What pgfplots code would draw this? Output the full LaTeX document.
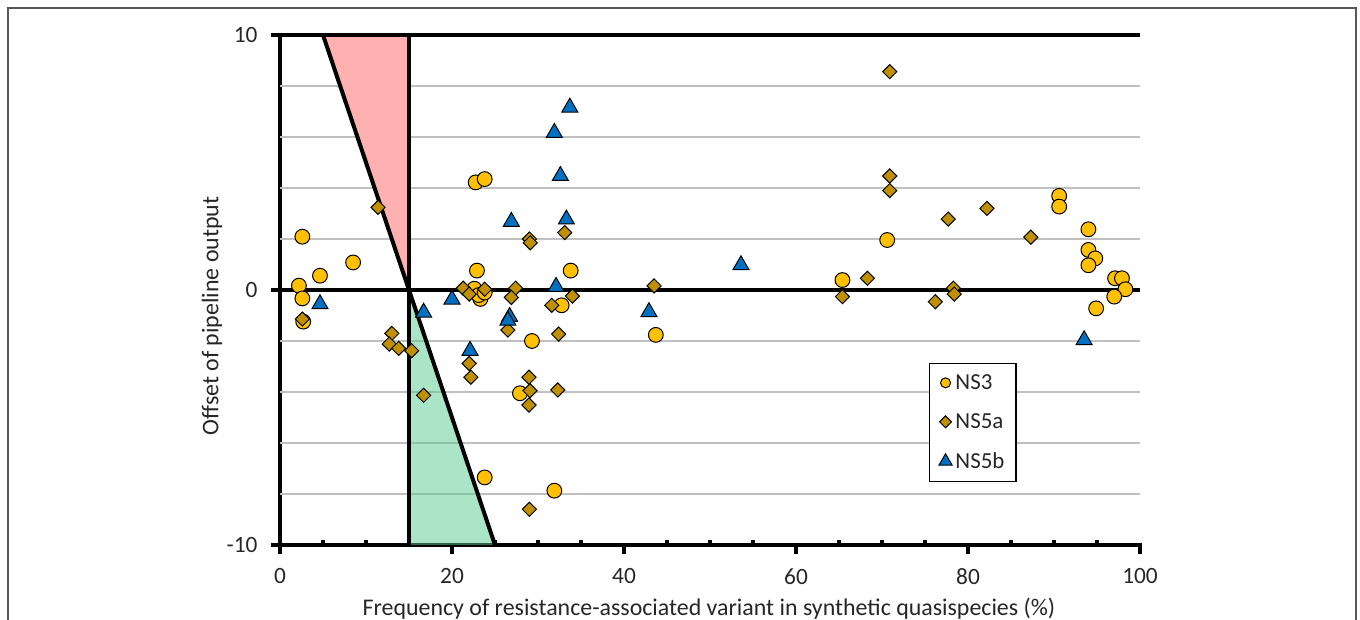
\documentclass[border=0pt]{standalone}
\usepackage{pgfplots}
\pgfplotsset{compat=1.18}
\usepackage{fontspec}
\setmainfont{Carlito}
\definecolor{ns3}{RGB}{255,192,0}
\definecolor{ns5a}{RGB}{191,144,0}
\definecolor{ns5b}{RGB}{0,112,192}
\definecolor{redfill}{RGB}{255,176,176}
\definecolor{greenov}{RGB}{87,203,145}
\definecolor{gridc}{RGB}{192,192,192}
\definecolor{txt}{RGB}{38,38,38}
\begin{document}
\begin{tikzpicture}
\useasboundingbox (0,0) rectangle (340mm,155mm);
\draw[black!65, line width=0.35mm] (2mm,-2mm) rectangle (339mm,153mm);
\begin{axis}[
  at={(70mm,18.75mm)}, anchor=south west,
  scale only axis, width=215mm, height=127.5mm,
  xmin=0, xmax=100, ymin=-10, ymax=10,
  axis x line*=bottom, axis y line*=left,
  axis line style={line width=1mm, line cap=rect},
  xtick={0,20,...,100}, ytick={-10,0,10},
  minor x tick num=3,
  tick align=outside,
  major tick length=2.3mm,
  minor tick length=1.25mm,
  every tick/.style={black, line width=0.9mm},
  every minor tick/.style={black, line width=0.8mm, yshift=1.25mm},
  extra y ticks={-8,-6,-4,-2,2,4,6,8},
  extra y tick labels={},
  extra y tick style={ymajorgrids=true, tick style={draw=none},
    major grid style={gridc, line width=0.4mm}},
  /pgf/number format/assume math mode=true,
  tick label style={font=\fontsize{16.6}{19}\selectfont, text=txt},
  xticklabel style={yshift=-2.4mm},
  yticklabel style={xshift=-2.1mm},
  clip=false,
  legend style={at={(rel axis cs:0.7547,0.357)}, anchor=north west,
    draw=black, line width=0.3mm, font=\fontsize{16.3}{19}\selectfont,
    text=txt, row sep=4.1mm, inner xsep=2.2mm, inner ysep=2mm,
    /tikz/every even column/.append style={column sep=0mm}},
  legend cell align=left,
]
% red region
\addplot[draw=none, fill=redfill, forget plot] coordinates {(5,10) (15,10) (15,0) (5,10)};
% black reference lines
\addplot[black, line width=1mm, forget plot] coordinates {(0,10) (100,10)};
\addplot[black, line width=1mm, forget plot] coordinates {(0,0) (100,0)};
\addplot[black, line width=1mm, forget plot] coordinates {(15,10) (15,0)};
\addplot[black, line width=1mm, forget plot] coordinates {(5,10) (15,0)};

\addplot[only marks, mark=*, mark size=1.85mm,
  mark options={fill=ns3, draw=black, line width=0.25mm},
  legend image code/.code={\draw[fill=ns3, draw=black, line width=0.25mm] (0mm,0mm) circle (1.25mm);}]
coordinates {
(2.2,0.17) (2.6,-0.33) (2.6,2.09) (2.7,-1.24) (4.65,0.56) (8.5,1.08)
(22.9,0.76) (22.75,4.22) (23.8,4.35) (22.6,0.05) (23.3,-0.35) (23.1,-0.2) (23.8,-0.1)
(33.8,0.76) (32.75,-0.6) (29.3,-2.0) (27.9,-4.05) (23.8,-7.35) (31.9,-7.87)
(43.7,-1.76) (65.4,0.39) (70.6,1.96) (90.6,3.69) (90.6,3.27) (94.0,2.38)
(94.0,1.57) (94.8,1.24) (94.0,0.97) (94.9,-0.72) (97.1,0.46) (97.9,0.46)
(98.3,0.03) (97.0,-0.26)
};
\addlegendentry{NS3}

\addplot[only marks, mark=square*, mark size=1.25mm,
  mark options={fill=ns5a, draw=black, line width=0.25mm, rotate=45},
  legend image code/.code={\draw[fill=ns5a, draw=black, line width=0.25mm, rotate=45] (-1.05mm,-1.05mm) rectangle (1.05mm,1.05mm);}]
coordinates {
(11.4,3.24) (2.6,-1.14) (13.0,-1.7) (12.7,-2.12) (13.8,-2.29) (15.3,-2.38)
(16.7,-4.13) (21.3,0.07) (22.0,-0.16) (23.8,0.03) (22.0,-2.88) (22.2,-3.42)
(27.4,0.07) (26.9,-0.29) (26.5,-1.57) (29.0,2.0) (29.1,1.85) (28.95,-3.42)
(29.07,-3.95) (28.95,-4.51) (29.0,-8.6) (33.1,2.25) (34.0,-0.24) (31.6,-0.6)
(32.4,-1.73) (32.3,-3.92) (43.5,0.16) (65.4,-0.26) (70.9,8.56) (70.9,4.47)
(70.9,3.9) (68.3,0.46) (77.7,2.78) (82.2,3.2) (87.3,2.07) (76.2,-0.46)
(78.3,0.07) (78.4,-0.16)
};
\addlegendentry{NS5a}

\addplot[only marks, mark=triangle*, mark size=2.3mm,
  mark options={fill=ns5b, draw=black, line width=0.25mm},
  legend image code/.code={\draw[fill=ns5b, draw=black, line width=0.25mm] (0mm,1.9mm) -- (1.65mm,-0.95mm) -- (-1.65mm,-0.95mm) -- cycle;}]
coordinates {
(4.65,-0.55) (16.7,-0.88) (20.0,-0.37) (22.1,-2.38) (26.7,-1.05) (26.5,-1.2)
(26.9,2.68) (33.7,7.16) (31.9,6.17) (32.6,4.48) (33.3,2.77) (32.1,0.13)
(42.9,-0.86) (53.6,0.98) (93.5,-1.96)
};
\addlegendentry{NS5b}

% green region (translucent, over the markers)
\addplot[draw=none, fill=greenov, fill opacity=0.5, forget plot] coordinates {(15,0) (15,-10) (25,-10) (15,0)};
\addplot[black, line width=1mm, forget plot] coordinates {(15,0) (15,-10)};
\addplot[black, line width=1mm, forget plot] coordinates {(15,0) (25,-10)};
\end{axis}
\node[font=\fontsize{17}{20}\selectfont, text=txt, anchor=base] at (177.25mm,1.25mm)
  {Frequency of resistance-associated variant in synthetic quasispecies (\%)};
\node[font=\fontsize{17}{20}\selectfont, text=txt, rotate=90] at (53mm,76mm)
  {Offset of pipeline output};
\end{tikzpicture}
\end{document}
